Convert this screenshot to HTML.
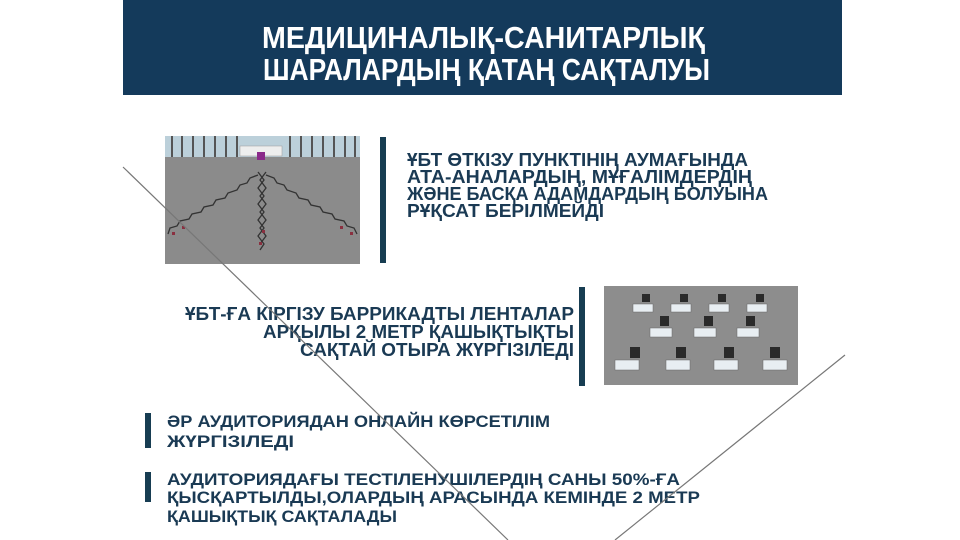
<!DOCTYPE html>
<html><head><meta charset="utf-8"><style>
html,body{margin:0;padding:0;background:#fff;}
svg{display:block;}
text{font-family:"Liberation Sans",sans-serif;font-weight:bold;}
</style></head><body>
<svg width="960" height="540" viewBox="0 0 960 540" xmlns="http://www.w3.org/2000/svg">
<rect x="0" y="0" width="960" height="540" fill="#fff"/>
<!-- header -->
<rect x="123" y="0" width="719" height="95" fill="#143a5b"/>
<text x="262" y="48" font-size="31" fill="#fff" textLength="443" lengthAdjust="spacingAndGlyphs">МЕДИЦИНАЛЫҚ-САНИТАРЛЫҚ</text>
<text x="263" y="80" font-size="31" fill="#fff" textLength="447" lengthAdjust="spacingAndGlyphs">ШАРАЛАРДЫҢ ҚАТАҢ САҚТАЛУЫ</text>

<!-- image 1 -->
<rect x="165" y="136" width="195" height="128" fill="#8b8b8b"/>
<rect x="165" y="136" width="195" height="21" fill="#bcd0da"/>
<g stroke="#555" stroke-width="2">
<line x1="172" y1="136" x2="172" y2="157"/><line x1="182" y1="136" x2="182" y2="157"/><line x1="193" y1="136" x2="193" y2="157"/><line x1="204" y1="136" x2="204" y2="157"/><line x1="215" y1="136" x2="215" y2="157"/><line x1="226" y1="136" x2="226" y2="157"/><line x1="237" y1="136" x2="237" y2="157"/><line x1="290" y1="136" x2="290" y2="157"/><line x1="301" y1="136" x2="301" y2="157"/><line x1="312" y1="136" x2="312" y2="157"/><line x1="323" y1="136" x2="323" y2="157"/><line x1="334" y1="136" x2="334" y2="157"/><line x1="345" y1="136" x2="345" y2="157"/><line x1="355" y1="136" x2="355" y2="157"/>
</g>
<rect x="240" y="146" width="42" height="10" fill="#eee" stroke="#999" stroke-width="0.5"/>
<rect x="257" y="152" width="8" height="8" fill="#8a2a8a"/>
<g fill="none" stroke="#333" stroke-width="1.3">
<polyline points="258,175 250,178 247,183 240,185 237,190 228,193 225,198 216,200 213,205 204,207 201,212 192,214 189,219 180,221 177,226 170,228 168,234"/>
<polyline points="266,175 274,178 277,183 284,185 287,190 296,193 299,198 308,200 311,205 320,207 323,212 332,214 335,219 344,221 347,226 354,228 357,234"/>
<polyline points="258,172 264,180 258,188 264,196 258,204 264,212 258,220 264,228 258,236 264,244 260,250"/>
<polyline points="266,172 260,180 266,188 260,196 266,204 260,212 266,220 260,228 266,236 260,244"/>
</g>
<g fill="#8a3040"><rect x="172" y="232" width="3" height="3"/><rect x="182" y="226" width="3" height="3"/><rect x="350" y="232" width="3" height="3"/><rect x="340" y="226" width="3" height="3"/><rect x="262" y="230" width="3" height="3"/><rect x="259" y="242" width="3" height="3"/></g>
<rect x="380" y="137" width="6" height="126" fill="#173d52"/>

<text x="407" y="166" font-size="18" fill="#1a3a54" textLength="341" lengthAdjust="spacingAndGlyphs">ҰБТ ӨТКІЗУ ПУНКТІНІҢ АУМАҒЫНДА</text>
<text x="407" y="183" font-size="18" fill="#1a3a54" textLength="345" lengthAdjust="spacingAndGlyphs">АТА-АНАЛАРДЫҢ, МҰҒАЛІМДЕРДІҢ</text>
<text x="407" y="200" font-size="18" fill="#1a3a54" textLength="361" lengthAdjust="spacingAndGlyphs">ЖӘНЕ БАСҚА АДАМДАРДЫҢ БОЛУЫНА</text>
<text x="407" y="217" font-size="18" fill="#1a3a54" textLength="197" lengthAdjust="spacingAndGlyphs">РҰҚСАТ БЕРІЛМЕЙДІ</text>

<!-- block 2 -->
<text x="185" y="320" font-size="18" fill="#1a3a54" textLength="389" lengthAdjust="spacingAndGlyphs">ҰБТ-ҒА КІРГІЗУ БАРРИКАДТЫ ЛЕНТАЛАР</text>
<text x="263" y="338" font-size="18" fill="#1a3a54" textLength="311" lengthAdjust="spacingAndGlyphs">АРҚЫЛЫ 2 МЕТР ҚАШЫҚТЫҚТЫ</text>
<text x="300" y="356" font-size="18" fill="#1a3a54" textLength="274" lengthAdjust="spacingAndGlyphs">САҚТАЙ ОТЫРА ЖҮРГІЗІЛЕДІ</text>
<rect x="579" y="287" width="6" height="99" fill="#173d52"/>

<!-- image 2 -->
<rect x="604" y="286" width="194" height="99" fill="#8d8d8d"/>
<g fill="#e8eef2" stroke="#666" stroke-width="0.5">
<rect x="633" y="304" width="20" height="8"/><rect x="671" y="304" width="20" height="8"/><rect x="709" y="304" width="20" height="8"/><rect x="747" y="304" width="20" height="8"/>
<rect x="650" y="328" width="22" height="9"/><rect x="694" y="328" width="22" height="9"/><rect x="737" y="328" width="22" height="9"/>
<rect x="615" y="360" width="24" height="10"/><rect x="666" y="360" width="24" height="10"/><rect x="714" y="360" width="24" height="10"/><rect x="763" y="360" width="24" height="10"/>
</g>
<g fill="#2a2a2a">
<rect x="642" y="294" width="8" height="8"/><rect x="680" y="294" width="8" height="8"/><rect x="718" y="294" width="8" height="8"/><rect x="756" y="294" width="8" height="8"/>
<rect x="660" y="316" width="9" height="10"/><rect x="704" y="316" width="9" height="10"/><rect x="746" y="316" width="9" height="10"/>
<rect x="630" y="347" width="10" height="11"/><rect x="676" y="347" width="10" height="11"/><rect x="724" y="347" width="10" height="11"/><rect x="770" y="347" width="10" height="11"/>
</g>

<!-- block 3 -->
<rect x="145" y="413" width="6" height="35" fill="#173d52"/>
<text x="167" y="427" font-size="17" fill="#1a3a54" textLength="383" lengthAdjust="spacingAndGlyphs">ӘР АУДИТОРИЯДАН ОНЛАЙН КӨРСЕТІЛІМ</text>
<text x="167" y="447" font-size="17" fill="#1a3a54" textLength="127" lengthAdjust="spacingAndGlyphs">ЖҮРГІЗІЛЕДІ</text>

<!-- block 4 -->
<rect x="145" y="472" width="6" height="30" fill="#173d52"/>
<text x="167" y="485" font-size="17" fill="#1a3a54" textLength="513" lengthAdjust="spacingAndGlyphs">АУДИТОРИЯДАҒЫ ТЕСТІЛЕНУШІЛЕРДІҢ САНЫ 50%-ҒА</text>
<text x="167" y="503" font-size="17" fill="#1a3a54" textLength="533" lengthAdjust="spacingAndGlyphs">ҚЫСҚАРТЫЛДЫ,ОЛАРДЫҢ АРАСЫНДА КЕМІНДЕ 2 МЕТР</text>
<text x="167" y="522" font-size="17" fill="#1a3a54" textLength="230" lengthAdjust="spacingAndGlyphs">ҚАШЫҚТЫҚ САҚТАЛАДЫ</text>

<!-- diagonals -->
<line x1="123" y1="167" x2="508" y2="540" stroke="#777" stroke-width="1.2"/>
<line x1="845" y1="355" x2="615" y2="540" stroke="#777" stroke-width="1.2"/>
</svg>
</body></html>
